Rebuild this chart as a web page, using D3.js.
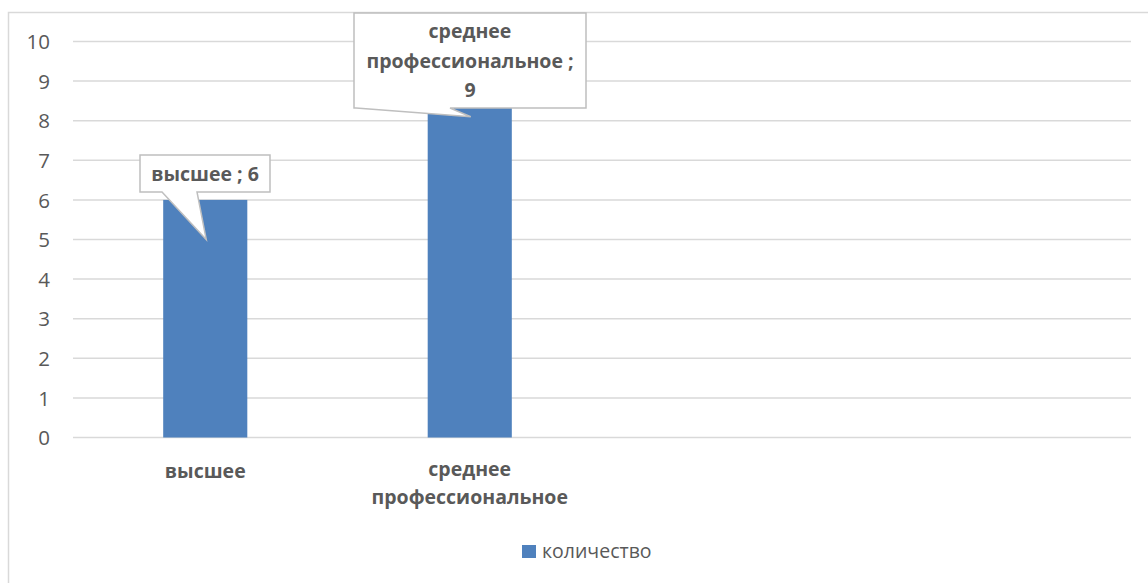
<!DOCTYPE html>
<html lang="ru">
<head>
<meta charset="utf-8">
<title>количество</title>
<script src="https://d3js.org/d3.v7.min.js"></script>
<style>
  body { margin: 0; background: #fff; }
  svg { font-family: "Open Sans", "Liberation Sans", sans-serif; }
</style>
</head>
<body>
<svg id="chart" width="1148" height="583"></svg>
<script>
// data
const categories = ["высшее", "среднее профессиональное", "", " "];
const values = [6, 9, null, null];
const yTicks = [0, 1, 2, 3, 4, 5, 6, 7, 8, 9, 10];
const seriesName = "количество";
// label lines for callouts and x axis
const xLabelLines = [["высшее"], ["среднее", "профессиональное"], [], []];
const calloutLines = [["высшее ; 6"], ["среднее", "профессиональное ;", "9"]];

const W = 1148, H = 583;
const margin = { top: 41.5, left: 73, right: 17, bottom: 145 };
const svg = d3.select("#chart");

// chart frame (runs off right and bottom edge)
svg.append("rect")
  .attr("x", 8.5).attr("y", 12.5)
  .attr("width", W).attr("height", H)
  .attr("fill", "none").attr("stroke", "#d9d9d9").attr("stroke-width", 1.5);

const x = d3.scaleBand().domain(categories).range([margin.left, W - margin.right]).padding(0);
const y = d3.scaleLinear().domain([0, 10]).range([H - margin.bottom - 0.5, margin.top]);

// gridlines
svg.append("g").selectAll("line").data(yTicks).join("line")
  .attr("x1", margin.left).attr("x2", W - margin.right)
  .attr("y1", d => y(d)).attr("y2", d => y(d))
  .attr("stroke", "#d9d9d9").attr("stroke-width", 1.5);

// y axis labels
const yAxis = d3.axisLeft(y).tickValues(yTicks).tickSize(0).tickPadding(0);
svg.append("g")
  .attr("transform", `translate(${margin.left - 23},0)`)
  .call(yAxis)
  .attr("font-family", "Open Sans, sans-serif")
  .attr("font-size", 20.5)
  .call(g => g.select(".domain").remove())
  .selectAll("text").attr("dy", "0.35em").attr("fill", "#595959");

// bars
const barW = x.bandwidth() * 0.318;
const barData = categories.map((c, i) => ({ c, v: values[i] })).filter(d => d.v != null);
svg.append("g").selectAll("rect").data(barData).join("rect")
  .attr("x", d => x(d.c) + (x.bandwidth() - barW) / 2)
  .attr("y", d => y(d.v))
  .attr("width", barW)
  .attr("height", d => y(0) - y(d.v))
  .attr("fill", "#4f81bd");

// x axis category labels
const xl = svg.append("g");
categories.forEach((c, i) => {
  const cx = x(c) + x.bandwidth() / 2;
  const lines = xLabelLines[i];
  const t = xl.append("text")
    .attr("text-anchor", "middle")
    .attr("font-size", 19.5).attr("font-weight", "bold").attr("fill", "#595959");
  lines.forEach((ln, j) => {
    t.append("tspan").attr("x", cx).attr("y", (lines.length > 1 ? 476 : 478) + j * 28).text(ln);
  });
});

// callouts
const callouts = [
  { i: 0, box: [140, 155, 130, 37], base: [162, 197], tipV: 5 },
  { i: 1, box: [354, 13, 232, 95], base: [356, 450], tipV: 8.1 }
];
const cg = svg.append("g");
callouts.forEach(co => {
  const [bx, by, bw, bh] = co.box;
  const cx = x(categories[co.i]) + x.bandwidth() / 2;
  const tipX = cx + 1, tipY = y(co.tipV);
  const path = d3.path();
  path.moveTo(bx, by);
  path.lineTo(bx + bw, by);
  path.lineTo(bx + bw, by + bh);
  path.lineTo(co.base[1], by + bh);
  path.lineTo(tipX, tipY);
  path.lineTo(co.base[0], by + bh);
  path.lineTo(bx, by + bh);
  path.closePath();
  cg.append("path").attr("d", path.toString())
    .attr("fill", "#fff").attr("stroke", "#bfbfbf").attr("stroke-width", 1.5);
  const lines = calloutLines[co.i];
  const lh = 29.5;
  const t = cg.append("text").attr("text-anchor", "middle")
    .attr("font-size", 19.5).attr("font-weight", "bold").attr("fill", "#595959");
  const y0 = by + bh / 2 - (lines.length - 1) * lh / 2 + 7;
  lines.forEach((ln, j) => {
    t.append("tspan").attr("x", bx + bw / 2).attr("y", y0 + j * lh).text(ln);
  });
});

// legend
const lg = svg.append("g");
lg.append("rect").attr("x", 522).attr("y", 545).attr("width", 14).attr("height", 13).attr("fill", "#4f81bd");
lg.append("text").attr("x", 542).attr("y", 558)
  .attr("font-size", 19.5).attr("fill", "#595959").text(seriesName);
</script>
</body>
</html>
